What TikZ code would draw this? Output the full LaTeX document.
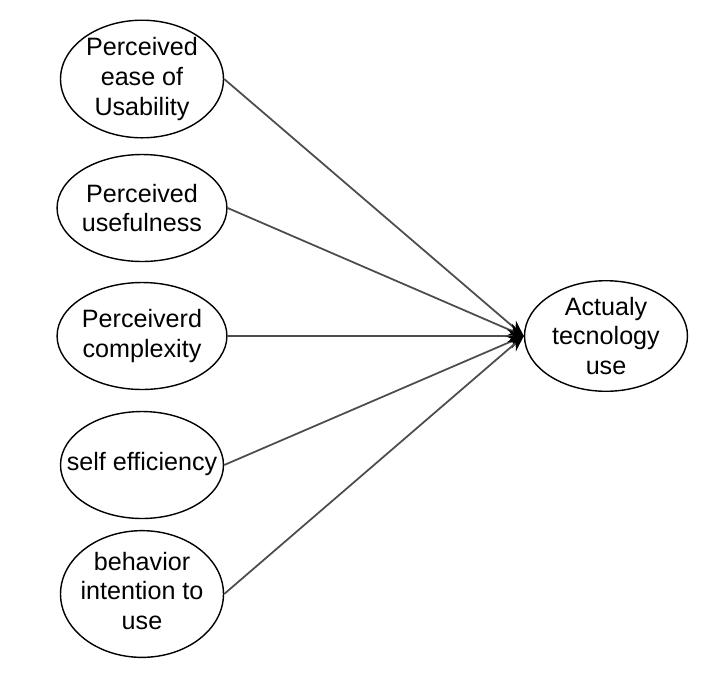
\documentclass[tikz,border=0pt]{standalone}
\usepackage{fontspec}
\setmainfont{Liberation Sans}
\usetikzlibrary{arrows.meta, shapes.geometric}

% text that may stick out of its ellipse
\newcommand{\wide}[1]{\makebox[0pt]{\begin{tabular}{@{}c@{}}#1\end{tabular}}}

\begin{document}
\begin{tikzpicture}[x=0.02cm, y=-0.02cm,
    factor/.style={draw, ellipse, line width=0.8pt, minimum width=3.26cm,
      minimum height=2.14cm, inner sep=0pt, align=center,
      font=\fontsize{14.3}{17}\selectfont},
    link/.style={line width=1pt, black!70, -{Stealth[length=3.2mm, width=2.6mm, black]}}]
    % frame of the page
    \useasboundingbox (0, 0) rectangle (720, 677);

    % left column
    \node[factor] (ease)   at (142, 79)  {Perceived\\ease of\\Usability};
    \node[factor] (useful) at (142, 208) {Perceived\\usefulness};
    \node[factor] (complx) at (142, 336) {Perceiverd\\complexity};
    \node[factor] (selfef) at (142, 465) {\wide{self efficiency}};
    \node[factor] (intent) at (142, 594) {\wide{behavior\\intention to\\use}};

    % target
    \node[factor] (actual) at (606, 336) {Actualy\\tecnology\\use};

    % arrows into the target
    \draw[link] (ease.east)   -- (actual.west);
    \draw[link] (useful.east) -- (actual.west);
    \draw[link] (complx.east) -- (actual.west);
    \draw[link] (selfef.east) -- (actual.west);
    \draw[link] (intent.east) -- (actual.west);
\end{tikzpicture}
\end{document}
